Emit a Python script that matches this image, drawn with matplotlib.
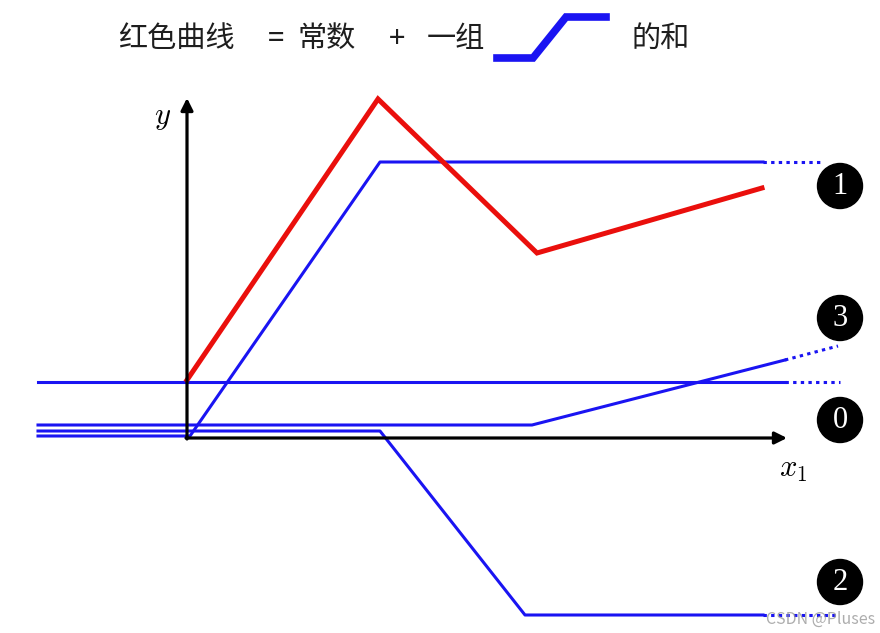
import matplotlib
matplotlib.use('Agg')
import matplotlib.pyplot as plt
from matplotlib.patches import Circle

plt.rcParams['font.family'] = ['Noto Sans CJK SC', 'DejaVu Sans']
plt.rcParams['mathtext.fontset'] = 'cm'

# red curve = constant + sum of steps (origin at axis crossing)
red_x = [0, 191, 350, 575]
red_y = [58, 339, 185, 250]

# constant
const_x = [-149, 598]
const_y = [56, 56]
const_dot_x = [598, 653]
const_dot_y = [56, 56]

# step 1
s1_x = [-149, 3, 193, 576]
s1_y = [2, 2, 276, 276]
s1_dot_x = [576, 633]
s1_dot_y = [276, 276]

# step 2
s2_x = [-149, 193, 338, 576]
s2_y = [7, 7, -177, -177]
s2_dot_x = [576, 650]
s2_dot_y = [-177, -177]

# step 3 (labelled 0 in picture)
s3_x = [-149, 345, 598]
s3_y = [13, 13, 78]
s3_dot_x = [598, 651]
s3_dot_y = [78, 92]

badge_labels = ['1', '3', '0', '2']
badge_x = [653, 653, 653, 653]
badge_y = [252, 120, 18, -144]

# little step icon in title
icon_x = [310, 346, 379, 419]
icon_y = [380, 380, 421, 421]

blue = '#1a14f2'
red = '#ea0f0c'

fig = plt.figure(figsize=(8.8, 6.33), dpi=100)
ax = fig.add_axes([0, 0, 1, 1])
ax.set_xlim(-187, 693)
ax.set_ylim(-195, 438)
ax.axis('off')

# axes arrows
ax.annotate('', xy=(0, 340), xytext=(0, -1),
            arrowprops=dict(arrowstyle='-|>', lw=2.3, color='black',
                            mutation_scale=18, shrinkA=0, shrinkB=0))
ax.annotate('', xy=(600, 0), xytext=(-1, 0),
            arrowprops=dict(arrowstyle='-|>', lw=2.3, color='black',
                            mutation_scale=18, shrinkA=0, shrinkB=0))

lw = 2.2
dots = (0, (1.1, 1.4))
ax.plot(const_x, const_y, color=blue, lw=lw)
ax.plot(const_dot_x, const_dot_y, color=blue, lw=lw, ls=dots)
ax.plot(s1_x, s1_y, color=blue, lw=lw)
ax.plot(s1_dot_x, s1_dot_y, color=blue, lw=lw, ls=dots)
ax.plot(s2_x, s2_y, color=blue, lw=lw)
ax.plot(s2_dot_x, s2_dot_y, color=blue, lw=lw, ls=dots)
ax.plot(s3_x, s3_y, color=blue, lw=lw)
ax.plot(s3_dot_x, s3_dot_y, color=blue, lw=lw, ls=dots)
ax.plot(red_x, red_y, color=red, lw=3.6, solid_joinstyle='miter')

for lab, bx, by in zip(badge_labels, badge_x, badge_y):
    ax.add_patch(Circle((bx, by), 22.5, color='black'))
    ax.text(bx, by - 1, lab, color='white', fontsize=22, ha='center',
            va='center', family='Liberation Serif')

ax.text(-24, 321, '$y$', fontsize=22, ha='center', va='center')
ax.text(606, -30, '$x_1$', fontsize=22, ha='center', va='center')

# title
ty = 399
tc = '#1e1e1e'
ax.text(-69, ty, '红色曲线', fontsize=21, ha='left', va='center', color=tc)
ax.text(81, ty, '=', fontsize=21, ha='left', va='center', color=tc)
ax.text(111, ty, '常数', fontsize=21, ha='left', va='center', color=tc)
ax.text(210, ty, '+', fontsize=21, ha='center', va='center', color=tc)
ax.text(240, ty, '一组', fontsize=21, ha='left', va='center', color=tc)
ax.text(445, ty, '的和', fontsize=21, ha='left', va='center', color=tc)
ax.plot(icon_x, icon_y, color=blue, lw=5.5, solid_joinstyle='miter')

ax.text(688, -181, 'CSDN @Pluses', fontsize=11.5, ha='right', va='center',
        color='#999999', alpha=0.8)

fig.savefig('out.png', dpi=100)
